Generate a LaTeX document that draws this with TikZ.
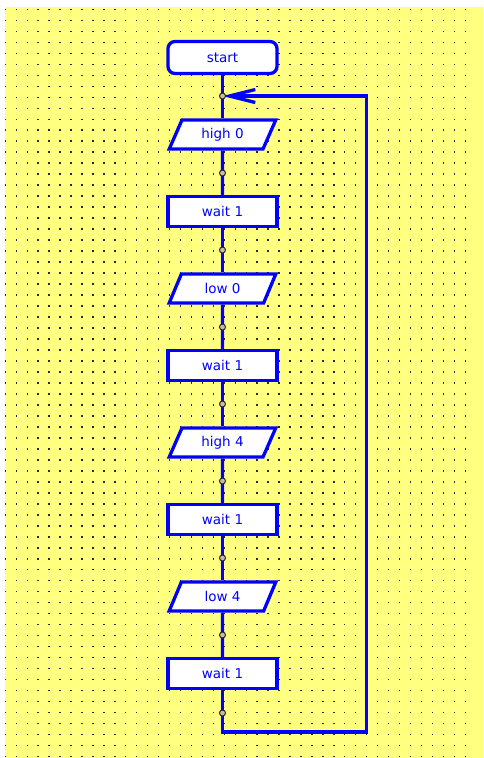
\documentclass[tikz,border=0pt]{standalone}
\usepackage{fontspec}
\setmainfont{DejaVu Sans}
\usetikzlibrary{shapes.geometric,arrows.meta}
\definecolor{flowblue}{RGB}{0,0,255}
\definecolor{canvas}{RGB}{255,255,128}
\definecolor{griddot}{RGB}{40,40,40}
\definecolor{jointfill}{RGB}{205,185,165}

\begin{document}
\begin{tikzpicture}[x=1pt,y=-1pt,
  flowline/.style={draw=flowblue,line width=3.3pt},
  boxtext/.style={text=flowblue,font=\fontsize{13.5}{15}\selectfont,inner sep=0pt},
  terminal/.style={boxtext,draw=flowblue,line width=3.3pt,fill=white,
    rounded corners=7pt,minimum width=109pt,minimum height=32pt},
  process/.style={boxtext,draw=flowblue,line width=3.3pt,fill=white,
    minimum width=109pt,minimum height=30pt},
  io/.style={boxtext,draw=flowblue,line width=3.3pt,fill=white,
    trapezium,trapezium left angle=63,trapezium right angle=117,
    trapezium stretches=true,minimum width=107pt,minimum height=29pt},
  jdot/.style={circle,draw=black!85,fill=jointfill,line width=1pt,
    minimum size=6pt,inner sep=0pt},
  loopend/.style={-{Straight Barb[length=26pt,width=13pt]}}
]
% page and dotted canvas
\fill[white] (0,0) rectangle (483,758);
\fill[canvas] (5,7) rectangle (483,758);
\foreach \i in {0,...,42}
  \foreach \j in {0,...,68}
    \fill[griddot] ({4.6+\i*10.95},{8.6+\j*10.99}) rectangle ++(1.4,1.4);
\useasboundingbox (0,0) rectangle (483,758);

% flowchart steps
\node[terminal] (start) at (222.5,57.5) {start};
\node[io]      (h0) at (222.5,134.5) {high 0};
\node[process] (w1) at (222.5,211.5) {wait 1};
\node[io]      (l0) at (222.5,288.5) {low 0};
\node[process] (w2) at (222.5,365.5) {wait 1};
\node[io]      (h4) at (222.5,442.5) {high 4};
\node[process] (w3) at (222.5,519.5) {wait 1};
\node[io]      (l4) at (222.5,596.5) {low 4};
\node[process] (w4) at (222.5,673.5) {wait 1};

% junction points and loop corners
\coordinate (c1) at (222.5,96);
\coordinate (c2) at (222.5,173);
\coordinate (c3) at (222.5,250);
\coordinate (c4) at (222.5,327);
\coordinate (c5) at (222.5,404);
\coordinate (c6) at (222.5,481);
\coordinate (c7) at (222.5,558);
\coordinate (c8) at (222.5,635);
\coordinate (c9) at (222.5,713);
\coordinate (lb) at (222.5,732);
\coordinate (rb) at (366.5,732);
\coordinate (rt) at (366.5,96);

% connectors
\draw[flowline] (start) -- (h0);
\draw[flowline] (h0) -- (w1);
\draw[flowline] (w1) -- (l0);
\draw[flowline] (l0) -- (w2);
\draw[flowline] (w2) -- (h4);
\draw[flowline] (h4) -- (w3);
\draw[flowline] (w3) -- (l4);
\draw[flowline] (l4) -- (w4);
\draw[flowline,loopend] (w4.south) -- (lb) -- (rb) -- (rt) -- (c1);

% junction markers
\node[jdot] (j1) at (c1) {};
\node[jdot] (j2) at (c2) {};
\node[jdot] (j3) at (c3) {};
\node[jdot] (j4) at (c4) {};
\node[jdot] (j5) at (c5) {};
\node[jdot] (j6) at (c6) {};
\node[jdot] (j7) at (c7) {};
\node[jdot] (j8) at (c8) {};
\node[jdot] (j9) at (c9) {};
\end{tikzpicture}
\end{document}
